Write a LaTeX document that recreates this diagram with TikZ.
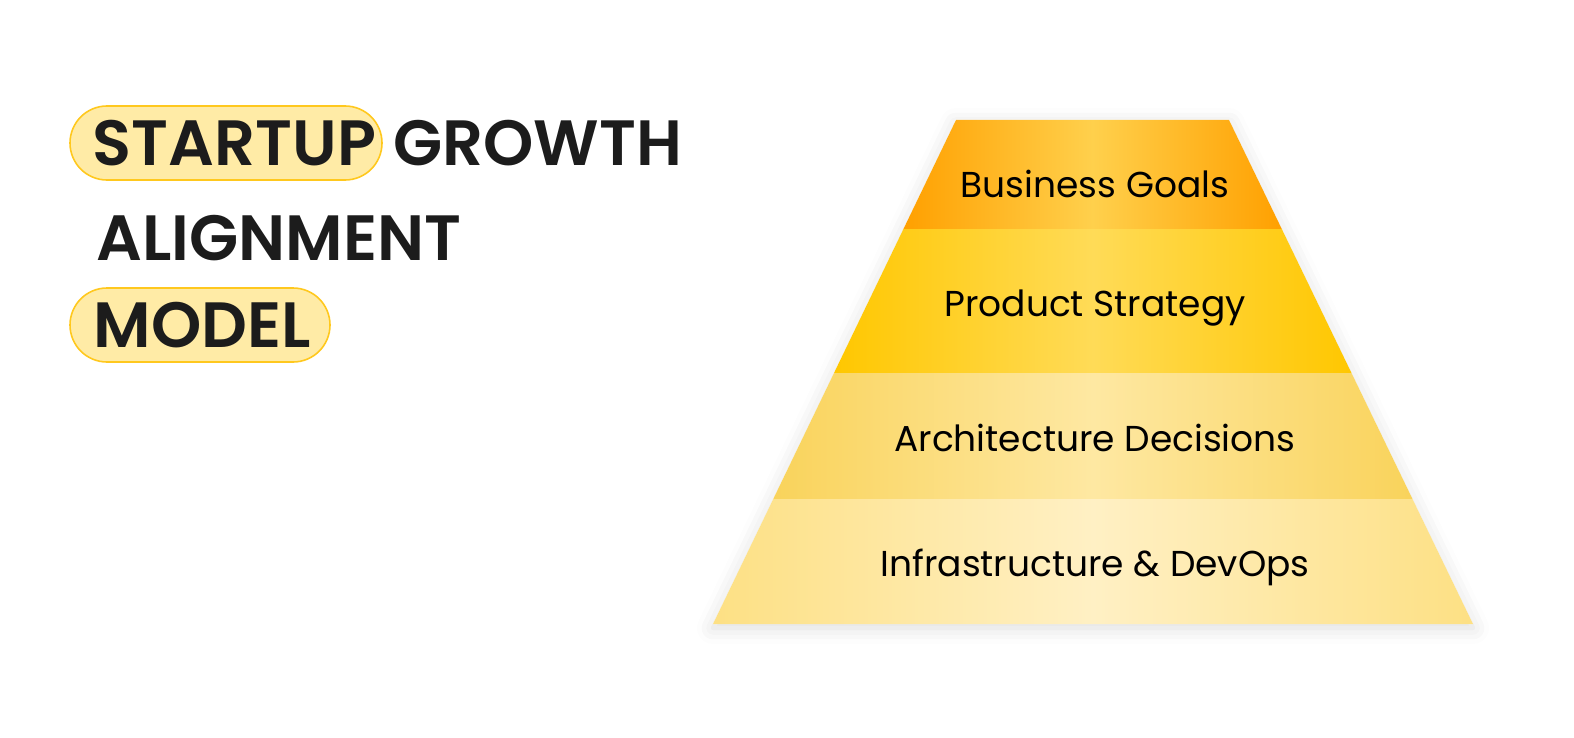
\documentclass[tikz,border=0pt]{standalone}
\usepackage{fontspec}
\IfFontExistsTF{Poppins SemiBold}
    {\setmainfont{Poppins}[BoldFont={Poppins SemiBold}]}
    {\setmainfont{Poppins}}
\usetikzlibrary{positioning,shadows.blur}

\definecolor{inkdark}{HTML}{1C1C1C}
\definecolor{pillfill}{HTML}{FFEBA6}
\definecolor{pillline}{HTML}{FFC81E}
\definecolor{goalsedge}{HTML}{FFA000}
\definecolor{goalsmid}{HTML}{FFD04C}
\definecolor{productedge}{HTML}{FFC700}
\definecolor{productmid}{HTML}{FFDB57}
\definecolor{archedge}{HTML}{F9D35B}
\definecolor{archmid}{HTML}{FEE8A2}
\definecolor{infraedge}{HTML}{FDE084}
\definecolor{inframid}{HTML}{FFF0C4}

\begin{document}
\begin{tikzpicture}[x=0.5pt,y=-0.5pt]
    \tikzstyle{title}=[font=\fontsize{32}{38}\selectfont\bfseries, text=inkdark, inner sep=0pt]
    \tikzstyle{pill}=[title, fill=pillfill, draw=pillline, line width=0.8pt,
        rounded corners=18.5pt, minimum height=37pt, align=right]
    \tikzstyle{layer label}=[font=\fontsize{18}{22}\selectfont, text=black, inner sep=0pt, anchor=base]

    \useasboundingbox (0,0) rectangle (1574,738);

    % Title
    \node[pill, minimum width=156pt, text width=150pt] (startup) at (226,143) {STARTUP};
    \node[title, right=5pt of startup.base east, anchor=base west] (growth) {GROWTH};
    \node[title, anchor=base west] (alignment) at (96,260) {ALIGNMENT};
    \node[pill, minimum width=130pt, text width=111pt] (model) at (200,325) {MODEL};

    % Pyramid shadow
    \fill[white, blur shadow={shadow xshift=0pt, shadow yshift=-2pt,
        shadow blur radius=8pt, shadow opacity=14}]
        (956,120) -- (1229,120) -- (1473,624) -- (713,624) -- cycle;

    % Pyramid layers
    \foreach \ytop/\ybot/\edge/\mid in {120/229/goalsedge/goalsmid,
            229/373/productedge/productmid,
            373/499/archedge/archmid,
            499/624/infraedge/inframid}{
        \pgfmathsetmacro{\xtl}{956-(\ytop-120)/504*243}
        \pgfmathsetmacro{\xtr}{1229+(\ytop-120)/504*244}
        \pgfmathsetmacro{\xbl}{956-(\ybot-120)/504*243}
        \pgfmathsetmacro{\xbr}{1229+(\ybot-120)/504*244}
        \shade[left color=\edge, right color=\edge, middle color=\mid]
            (\xtl,\ytop) -- (\xtr,\ytop) -- (\xbr,\ybot) -- (\xbl,\ybot) -- cycle;
    }

    % Layer labels
    \foreach \name/\y/\txt in {goals/198/Business Goals,
            product/316/Product Strategy,
            arch/451/Architecture Decisions,
            infra/576/Infrastructure \& DevOps}
        \node[layer label] (\name) at (1095,\y) {\txt};
\end{tikzpicture}
\end{document}
